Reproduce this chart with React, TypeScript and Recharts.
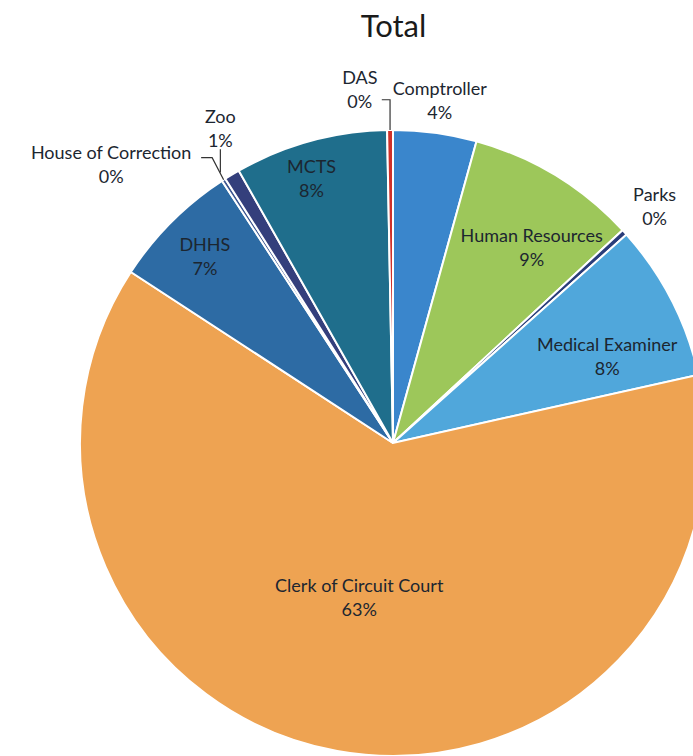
import { PieChart, Pie, Cell } from 'recharts'

const departments = [
  'Comptroller',
  'Human Resources',
  'Parks',
  'Medical Examiner',
  'Clerk of Circuit Court',
  'DHHS',
  'House of Correction',
  'Zoo',
  'MCTS',
  'DAS',
]
const shares = [4.3, 8.8, 0.3, 8.1, 62.7, 6.6, 0.2, 0.8, 7.9, 0.3]
const colors = [
  '#3a86cc',
  '#9dc75a',
  '#2a3d7a',
  '#50a7db',
  '#eea352',
  '#2d6ba4',
  '#3b5590',
  '#343f7c',
  '#1f6e8c',
  '#cf3029',
]

const data = departments.map((name, i) => ({ name, value: shares[i] }))

// label placement: radius factor and angle shift (degrees) relative to slice middle
const labelPlace = [
  { r: 1.11, shift: 0, leader: null },
  { r: 0.77, shift: 3.8, leader: null },
  { r: 1.13, shift: 0, leader: null },
  { r: 0.74, shift: 4.8, leader: null },
  { r: 0.5, shift: 2.2, leader: null },
  { r: 0.85, shift: 0, leader: null },
  { r: 1.27, shift: -12.4, leader: 'hoc' },
  { r: 1.15, shift: 2.3, leader: 'zoo' },
  { r: 0.89, shift: -1.7, leader: null },
  { r: 1.14, shift: -4.8, leader: 'das' },
]

const RAD = Math.PI / 180

function renderLabel(props: any) {
  const { cx, cy, midAngle, outerRadius, index, percent, name } = props
  const place = labelPlace[index]
  const theta = 90 - midAngle + place.shift
  const r = outerRadius * place.r
  const x = cx + r * Math.sin(theta * RAD)
  const y = cy - r * Math.cos(theta * RAD)
  const mid = 90 - midAngle
  const ex = cx + outerRadius * Math.sin(mid * RAD)
  const ey = cy - outerRadius * Math.cos(mid * RAD)
  let points = ''
  if (place.leader === 'das') {
    points = `${x + 22},${y + 12} ${ex},${y + 12} ${ex},${ey}`
  } else if (place.leader === 'hoc') {
    points = `${x + 90},${y - 5} ${x + 101},${y - 5} ${ex},${ey}`
  } else if (place.leader === 'zoo') {
    points = `${x},${y + 22} ${x},${ey - 2}`
  }
  return (
    <g>
      {points && <polyline points={points} fill="none" stroke="#333" strokeWidth={1.2} />}
      <text
        x={x}
        y={y}
        textAnchor="middle"
        fill="#1c2630"
        fontSize={18}
        fontFamily="Lato, 'Open Sans', sans-serif"
      >
        <tspan x={x} dy={-4}>
          {name}
        </tspan>
        <tspan x={x} dy={24}>
          {Math.round(percent * 100)}%
        </tspan>
      </text>
    </g>
  )
}

export default function App() {
  return (
    <div style={{ position: 'absolute', left: 0, top: 0, width: 693, height: 756, background: '#fff', overflow: 'hidden' }}>
      <div
        style={{
          position: 'absolute',
          left: 0,
          width: 693,
          top: 6,
          textAlign: 'center',
          paddingLeft: 94,
          boxSizing: 'border-box',
          fontFamily: "Lato, 'Open Sans', sans-serif",
          fontSize: 31,
          color: '#1a1a1a',
        }}
      >
        Total
      </div>
      <PieChart width={693} height={756} style={{ position: 'absolute', left: 0, top: 0 }}>
        <Pie
          data={data}
          dataKey="value"
          nameKey="name"
          cx={388}
          cy={438}
          outerRadius={313}
          startAngle={90}
          endAngle={-270}
          stroke="#fff"
          strokeWidth={2}
          label={renderLabel}
          labelLine={false}
          isAnimationActive={false}
        >
          {data.map((d, i) => (
            <Cell key={d.name} fill={colors[i]} />
          ))}
        </Pie>
      </PieChart>
    </div>
  )
}
